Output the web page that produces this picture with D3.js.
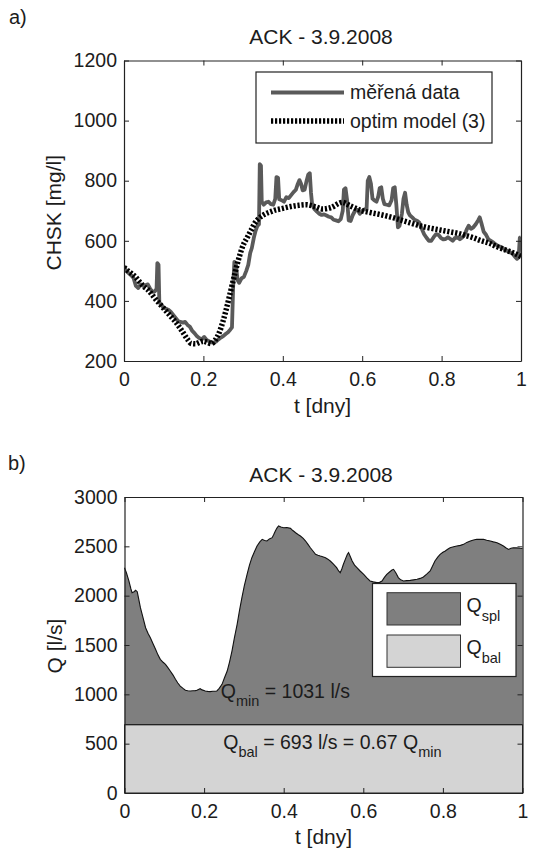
<!DOCTYPE html>
<html><head><meta charset="utf-8">
<script src="https://cdn.jsdelivr.net/npm/d3@7"></script>
<style>
body{margin:0;background:#fff;}
svg text{font-family:"Liberation Sans",Arial,Helvetica,sans-serif;fill:#1c1c1c;}
</style></head><body>
<svg id="c" width="536" height="849"></svg>
<script>
// ---------- data: chart a) ----------
const measT = [0.000,0.006,0.012,0.018,0.024,0.030,0.036,0.042,0.048,0.054,0.060,0.066,0.072,0.078,0.082,0.084,0.087,0.089,0.095,0.100,0.106,0.111,0.117,0.123,0.129,0.136,0.142,0.148,0.154,0.160,0.166,0.172,0.178,0.184,0.190,0.196,0.202,0.208,0.214,0.220,0.226,0.232,0.238,0.244,0.250,0.256,0.262,0.268,0.272,0.275,0.278,0.282,0.286,0.290,0.296,0.302,0.308,0.313,0.318,0.322,0.327,0.331,0.336,0.340,0.342,0.345,0.347,0.352,0.358,0.364,0.370,0.376,0.381,0.384,0.388,0.391,0.397,0.403,0.409,0.415,0.421,0.427,0.433,0.438,0.442,0.446,0.450,0.455,0.460,0.464,0.468,0.471,0.474,0.480,0.486,0.492,0.498,0.504,0.510,0.516,0.522,0.528,0.534,0.540,0.546,0.551,0.554,0.558,0.562,0.566,0.571,0.576,0.582,0.588,0.594,0.600,0.606,0.611,0.614,0.618,0.622,0.626,0.630,0.636,0.640,0.644,0.648,0.652,0.656,0.662,0.668,0.674,0.678,0.682,0.686,0.690,0.694,0.700,0.704,0.708,0.712,0.716,0.720,0.726,0.732,0.738,0.744,0.750,0.756,0.762,0.768,0.774,0.780,0.786,0.792,0.798,0.804,0.810,0.816,0.822,0.828,0.834,0.840,0.846,0.852,0.858,0.864,0.868,0.874,0.880,0.886,0.892,0.896,0.900,0.906,0.912,0.918,0.924,0.930,0.936,0.942,0.948,0.954,0.960,0.966,0.972,0.978,0.984,0.990,0.994,0.997,1.000];
const measV = [515,500,492,485,476,450,443,455,450,452,455,440,430,432,440,526,520,395,385,377,374,371,365,355,345,333,330,328,330,320,314,300,292,282,276,272,280,270,266,262,261,265,272,278,283,290,296,305,312,450,530,520,470,460,475,480,500,520,560,576,610,631,650,655,855,850,730,720,728,730,722,720,740,812,810,738,735,730,745,742,752,762,770,790,802,790,768,770,800,820,825,760,720,705,697,690,686,688,684,680,678,670,668,665,672,700,770,775,735,668,666,685,700,703,690,700,705,705,800,812,790,740,735,730,745,775,778,740,722,720,718,735,775,778,720,645,650,690,740,760,720,695,685,678,670,667,660,640,622,610,600,600,612,622,620,610,605,606,612,606,600,610,611,605,611,620,640,650,640,645,655,668,678,660,630,620,605,600,595,588,583,580,576,570,566,562,558,548,540,545,610,612];
const modelT = [0.00,0.01,0.02,0.03,0.04,0.05,0.06,0.07,0.08,0.09,0.10,0.11,0.12,0.13,0.14,0.15,0.16,0.17,0.18,0.19,0.20,0.21,0.22,0.23,0.24,0.25,0.26,0.27,0.28,0.29,0.30,0.31,0.32,0.33,0.34,0.35,0.36,0.37,0.38,0.39,0.40,0.42,0.44,0.46,0.48,0.50,0.52,0.55,0.57,0.60,0.62,0.65,0.68,0.70,0.72,0.74,0.76,0.78,0.80,0.82,0.84,0.86,0.88,0.90,0.92,0.94,0.96,0.98,1.00];
const modelV = [512,500,490,478,462,448,437,422,405,390,375,360,345,330,312,292,272,258,257,262,266,262,258,270,295,335,385,440,495,545,585,610,635,660,675,685,692,697,702,705,708,714,718,720,714,706,710,728,716,700,694,686,676,668,660,652,645,640,635,630,625,618,610,600,592,580,570,560,548];
const seriesA = ["měřená data", "optim model (3)"];
const xTicks = [0,0.2,0.4,0.6,0.8,1];
const xTickLabels = ["0","0.2","0.4","0.6","0.8","1"];
const yTicksA = [200,400,600,800,1000,1200];
const yTickLabelsA = ["200","400","600","800","1000","1200"];

// ---------- data: chart b) ----------
const flowT = [0.000,0.005,0.011,0.016,0.019,0.024,0.028,0.032,0.036,0.040,0.047,0.053,0.059,0.065,0.072,0.078,0.084,0.090,0.097,0.103,0.109,0.115,0.122,0.128,0.134,0.140,0.147,0.153,0.159,0.165,0.172,0.178,0.182,0.186,0.190,0.195,0.203,0.209,0.215,0.222,0.228,0.232,0.238,0.245,0.251,0.258,0.264,0.270,0.276,0.283,0.289,0.295,0.301,0.308,0.314,0.320,0.327,0.333,0.340,0.346,0.352,0.358,0.364,0.371,0.375,0.379,0.383,0.387,0.393,0.400,0.408,0.417,0.423,0.430,0.436,0.442,0.449,0.455,0.461,0.467,0.474,0.480,0.486,0.492,0.498,0.505,0.511,0.517,0.525,0.533,0.538,0.542,0.546,0.550,0.556,0.560,0.563,0.567,0.572,0.578,0.584,0.592,0.601,0.609,0.617,0.625,0.634,0.641,0.647,0.653,0.659,0.666,0.672,0.676,0.682,0.688,0.694,0.701,0.709,0.718,0.726,0.735,0.743,0.751,0.760,0.768,0.774,0.780,0.787,0.793,0.800,0.806,0.812,0.818,0.827,0.835,0.844,0.852,0.860,0.869,0.877,0.885,0.894,0.902,0.910,0.919,0.927,0.936,0.944,0.952,0.958,0.965,0.971,0.977,0.985,0.994,1.000];
const flowQ = [2283,2230,2149,2070,2030,2040,2055,2040,1960,1878,1770,1675,1620,1574,1510,1456,1400,1355,1325,1304,1270,1236,1195,1152,1115,1084,1060,1041,1036,1034,1036,1038,1041,1050,1057,1045,1034,1030,1027,1031,1032,1034,1060,1101,1165,1236,1330,1439,1570,1710,1850,1980,2100,2216,2310,2385,2450,2503,2545,2571,2560,2554,2575,2588,2620,2655,2685,2706,2695,2689,2690,2682,2660,2638,2620,2605,2580,2554,2520,2486,2450,2419,2410,2402,2395,2385,2370,2351,2320,2284,2250,2233,2270,2318,2380,2420,2436,2400,2351,2310,2284,2250,2216,2180,2149,2140,2132,2135,2149,2185,2216,2240,2260,2267,2230,2183,2160,2149,2152,2155,2160,2166,2175,2189,2220,2250,2300,2351,2390,2419,2440,2453,2470,2486,2495,2503,2510,2520,2540,2554,2565,2571,2572,2571,2562,2554,2545,2537,2520,2503,2485,2469,2480,2486,2484,2480,2478];
const qBal = 693;
const qMin = 1031;
const seriesB = ["spl", "bal"];
const yTicksB = [0,500,1000,1500,2000,2500,3000];
const yTickLabelsB = ["0","500","1000","1500","2000","2500","3000"];

// ---------- drawing ----------
const svg = d3.select("#c");
const AX = "#222";

function axes(g, x, y, xT, xL, yT, yL, padX) {
  const yb = y.range()[0], yt = y.range()[1], xl = x.range()[0], xr = x.range()[1];
  const fmtX = d => xL[xT.indexOf(d)], fmtY = d => yL[yT.indexOf(d)];
  const parts = [
    g.append("g").attr("transform",`translate(0,${yb})`).call(d3.axisBottom(x).tickValues(xT).tickFormat(fmtX).tickSize(-5).tickSizeOuter(0).tickPadding(padX)),
    g.append("g").attr("transform",`translate(0,${yt})`).call(d3.axisTop(x).tickValues(xT).tickFormat("").tickSize(-5).tickSizeOuter(0)),
    g.append("g").attr("transform",`translate(${xl},0)`).call(d3.axisLeft(y).tickValues(yT).tickFormat(fmtY).tickSize(-5).tickSizeOuter(0).tickPadding(7)),
    g.append("g").attr("transform",`translate(${xr},0)`).call(d3.axisRight(y).tickValues(yT).tickFormat("").tickSize(-5).tickSizeOuter(0))
  ];
  parts.forEach(p => {
    p.selectAll(".domain").attr("stroke", AX).attr("stroke-width", 1.2);
    p.selectAll(".tick line").attr("stroke", AX).attr("stroke-width", 1);
    p.selectAll(".tick text").attr("font-size", 19.5).attr("fill", "#1c1c1c")
      .style("font-family", "'Liberation Sans', Arial, sans-serif");
  });
}

// ===== chart a =====
const xA = d3.scaleLinear().domain([0,1]).range([124,521]);
const yA = d3.scaleLinear().domain([200,1200]).range([361,60.5]);
const gA = svg.append("g");
svg.append("defs").append("clipPath").attr("id","clipA")
  .append("rect").attr("x",124).attr("y",60.5).attr("width",397).attr("height",300.5);

gA.append("text").attr("x",9).attr("y",24).attr("font-size",20).text("a)");
gA.append("text").attr("x",321).attr("y",43.5).attr("text-anchor","middle").attr("font-size",21).text("ACK - 3.9.2008");

const lineA = d3.line().x(d => xA(d[0])).y(d => yA(d[1]));
const measPts = measT.map((t,i) => [t, measV[i]]);
const modelPts = modelT.map((t,i) => [t, modelV[i]]);
gA.append("path").attr("clip-path","url(#clipA)").attr("d", lineA(measPts))
  .attr("fill","none").attr("stroke","#5a5a5a").attr("stroke-width",3.8).attr("stroke-linejoin","round");
gA.append("path").attr("clip-path","url(#clipA)").attr("d", lineA.curve(d3.curveMonotoneX)(modelPts))
  .attr("fill","none").attr("stroke","#000").attr("stroke-width",5.5).attr("stroke-dasharray","2.2,1.8");

axes(gA, xA, yA, xTicks, xTickLabels, yTicksA, yTickLabelsA, 11);

gA.append("text").attr("transform",`translate(61,${(60.5+361)/2 + 2}) rotate(-90)`)
  .attr("text-anchor","middle").attr("font-size",21).text("CHSK [mg/l]");
gA.append("text").attr("x",322.5).attr("y",413).attr("text-anchor","middle").attr("font-size",21).text("t [dny]");

// legend a
const legA = gA.append("g");
legA.append("rect").attr("x",256).attr("y",72).attr("width",236).attr("height",71)
  .attr("fill","#fff").attr("stroke",AX).attr("stroke-width",1.2);
legA.append("line").attr("x1",271).attr("x2",344).attr("y1",92.5).attr("y2",92.5)
  .attr("stroke","#5a5a5a").attr("stroke-width",3.8);
legA.append("line").attr("x1",271).attr("x2",344).attr("y1",121).attr("y2",121)
  .attr("stroke","#000").attr("stroke-width",5.5).attr("stroke-dasharray","2.2,1.8");
legA.append("text").attr("x",350).attr("y",99).attr("font-size",19.5).text(seriesA[0]);
legA.append("text").attr("x",350).attr("y",128).attr("font-size",19.5).text(seriesA[1]);

// ===== chart b =====
const xB = d3.scaleLinear().domain([0,1]).range([124.5,522.5]);
const yB = d3.scaleLinear().domain([0,3000]).range([793,497]);
const gB = svg.append("g");

gB.append("text").attr("x",8).attr("y",470).attr("font-size",20).text("b)");
gB.append("text").attr("x",321).attr("y",482).attr("text-anchor","middle").attr("font-size",21).text("ACK - 3.9.2008");

const flowPts = flowT.map((t,i) => [t, flowQ[i]]);
// Q_bal band
gB.append("path").attr("d", d3.area().x(d => xB(d)).y0(yB(0)).y1(yB(qBal))([0,1]))
  .attr("fill","#d4d4d4").attr("stroke","#222").attr("stroke-width",1);
// Q_spl area
gB.append("path").attr("d", d3.area().x(d => xB(d[0])).y0(yB(qBal)).y1(d => yB(d[1]))(flowPts))
  .attr("fill","#7f7f7f").attr("stroke","none");
gB.append("path").attr("d", d3.line().x(d => xB(d[0])).y(d => yB(d[1]))(flowPts))
  .attr("fill","none").attr("stroke","#111").attr("stroke-width",1.1);
gB.append("line").attr("x1",xB(0)).attr("x2",xB(1)).attr("y1",yB(qBal)).attr("y2",yB(qBal))
  .attr("stroke","#222").attr("stroke-width",1.4);

axes(gB, xB, yB, xTicks, xTickLabels, yTicksB, yTickLabelsB, 11);

gB.append("text").attr("transform",`translate(62,${(497+793)/2 + 1}) rotate(-90)`)
  .attr("text-anchor","middle").attr("font-size",21).text("Q [l/s]");
gB.append("text").attr("x",323.5).attr("y",844).attr("text-anchor","middle").attr("font-size",21).text("t [dny]");

// annotations
const t1 = gB.append("text").attr("x",xB(0.242)).attr("y",yB(qMin)).attr("dy","0.35em").attr("font-size",19.5);
t1.append("tspan").text("Q");
t1.append("tspan").attr("dy",8).attr("font-size",14.5).text("min");
t1.append("tspan").attr("dy",-8).text(" = " + qMin + " l/s");
const t2 = gB.append("text").attr("x",xB(0.248)).attr("y",yB(515)).attr("dy","0.35em").attr("font-size",19.5);
t2.append("tspan").text("Q");
t2.append("tspan").attr("dy",8).attr("font-size",14.5).text("bal");
t2.append("tspan").attr("dy",-8).text(" = " + qBal + " l/s = " + (qBal/qMin).toFixed(2) + " Q");
t2.append("tspan").attr("dy",8).attr("font-size",14.5).text("min");

// legend b
const legB = gB.append("g");
legB.append("rect").attr("x",372.5).attr("y",583.5).attr("width",143.5).attr("height",93)
  .attr("fill","#fff").attr("stroke",AX).attr("stroke-width",1.2);
const patchCols = ["#7f7f7f", "#d4d4d4"];
[592.7, 635].forEach((py, i) => {
  legB.append("rect").attr("x",387).attr("y",py).attr("width",73.5).attr("height",32.3)
    .attr("fill",patchCols[i]).attr("stroke","#333").attr("stroke-width",1);
  const tx = legB.append("text").attr("x",466.5).attr("y",py + 19).attr("font-size",19.5);
  tx.append("tspan").text("Q");
  tx.append("tspan").attr("dy",9).attr("font-size",14.5).text(seriesB[i]);
});
</script>
</body></html>
